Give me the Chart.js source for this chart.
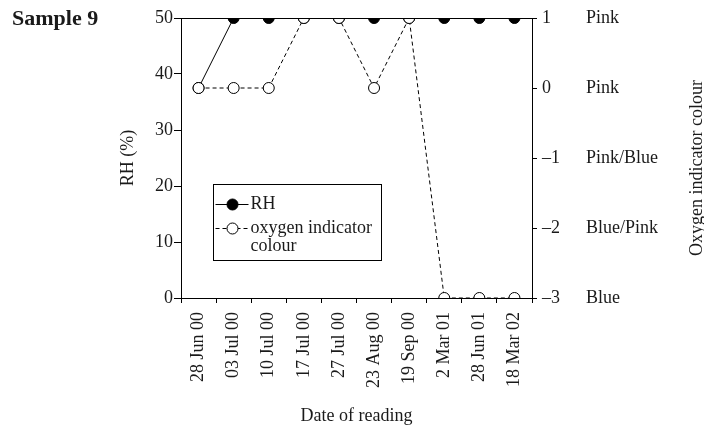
<!DOCTYPE html>
<html>
<head>
<meta charset="utf-8">
<script src="https://cdn.jsdelivr.net/npm/chart.js@4/dist/chart.umd.min.js"></script>
<style>
  html, body { margin: 0; padding: 0; background: #fff; }
  #wrap { position: relative; width: 704px; height: 430px; }
</style>
</head>
<body>
<div id="wrap"><canvas id="c" width="704" height="430"></canvas></div>
<script>
// ---- data ----
const dates = ['28 Jun 00', '03 Jul 00', '10 Jul 00', '17 Jul 00', '27 Jul 00', '23 Aug 00', '19 Sep 00', '2 Mar 01', '28 Jun 01', '18 Mar 02'];
const rhValues = [37.5, 50, 50, 50, 50, 50, 50, 50, 50, 50];
const oxygenValues = [0, 0, 0, 1, 1, 0, 1, -3, -3, -3];
const colourTickValues = [1, 0, -1, -2, -3];
const colourTickNames = ['Pink', 'Pink', 'Pink/Blue', 'Blue/Pink', 'Blue'];
const seriesNames = ['RH', 'oxygen indicator colour'];
const chartTitle = 'Sample 9';

const FONT = "'Liberation Serif', 'Times New Roman', serif";
const TXT = '#1a1a1a';

function colourName(v) {
  const i = colourTickValues.indexOf(v);
  return i >= 0 ? colourTickNames[i] : '';
}
function dashNum(v) { return v < 0 ? '\u2013' + Math.abs(v) : String(v); }

const decorPlugin = {
  id: 'decor',
  afterDraw(chart) {
    const ctx = chart.ctx;
    const ca = chart.chartArea;
    ctx.save();
    // top frame line
    ctx.strokeStyle = '#000';
    ctx.lineWidth = 1;
    ctx.beginPath();
    ctx.moveTo(ca.left, Math.round(ca.top) + 0.5);
    ctx.lineTo(ca.right, Math.round(ca.top) + 0.5);
    ctx.stroke();

    // Sample title
    ctx.fillStyle = TXT;
    ctx.font = "bold 22px " + FONT;
    ctx.textAlign = 'left';
    ctx.textBaseline = 'alphabetic';
    ctx.fillText(chartTitle, 12, 25);

    // right axis title (reads bottom to top)
    const yc = chart.scales.yColor;
    ctx.save();
    ctx.translate(yc.right - 7, (ca.top + ca.bottom) / 2 + 10);
    ctx.rotate(-Math.PI / 2);
    ctx.font = "18px " + FONT;
    ctx.textAlign = 'center';
    ctx.textBaseline = 'middle';
    ctx.fillText('Oxygen indicator colour', 0, 0);
    ctx.restore();

    // legend box
    const bx = Math.round(ca.left + 32) + 0.5;
    const by = Math.round(ca.top + 166) + 0.5;
    const bw = 168, bh = 76;
    ctx.fillStyle = '#fff';
    ctx.fillRect(bx, by, bw, bh);
    ctx.strokeStyle = '#000';
    ctx.lineWidth = 1;
    ctx.strokeRect(bx, by, bw, bh);

    const ds = chart.data.datasets;
    const entries = [
      { d: ds.find(d => d.label === seriesNames[0]), y: by + 20, lines: [seriesNames[0]] },
      { d: ds.find(d => d.label === seriesNames[1]), y: by + 44, lines: ['oxygen indicator', 'colour'] }
    ];
    ctx.font = "18px " + FONT;
    ctx.textBaseline = 'middle';
    ctx.textAlign = 'left';
    entries.forEach(e => {
      ctx.save();
      ctx.strokeStyle = e.d.borderColor;
      ctx.lineWidth = 1;
      ctx.setLineDash(e.d.borderDash || []);
      ctx.beginPath();
      ctx.moveTo(bx + 2, e.y);
      ctx.lineTo(bx + 35, e.y);
      ctx.stroke();
      ctx.setLineDash([]);
      ctx.beginPath();
      ctx.arc(bx + 19, e.y, e.d.pointRadius, 0, Math.PI * 2);
      ctx.fillStyle = e.d.pointBackgroundColor;
      ctx.fill();
      ctx.strokeStyle = e.d.pointBorderColor;
      ctx.stroke();
      ctx.restore();
      ctx.fillStyle = TXT;
      e.lines.forEach((t, i) => ctx.fillText(t, bx + 37, e.y + i * 18));
    });
    ctx.restore();
  }
};

new Chart(document.getElementById('c'), {
  type: 'line',
  data: {
    labels: dates,
    datasets: [
      {
        label: seriesNames[1],
        data: oxygenValues,
        yAxisID: 'y2',
        borderColor: '#000',
        borderWidth: 1,
        borderDash: [4, 3],
        pointRadius: 5.5,
        pointBackgroundColor: '#fff',
        pointBorderColor: '#000',
        pointBorderWidth: 1,
        tension: 0,
        order: 0
      },
      {
        label: seriesNames[0],
        data: rhValues,
        yAxisID: 'y',
        borderColor: '#000',
        borderWidth: 1,
        pointRadius: 5.5,
        pointBackgroundColor: '#000',
        pointBorderColor: '#000',
        pointBorderWidth: 1,
        tension: 0,
        order: 1
      }
    ]
  },
  options: {
    responsive: false,
    animation: false,
    devicePixelRatio: 1,
    layout: { padding: { left: 117, right: 0, top: 18, bottom: 3 } },
    plugins: {
      legend: { display: false },
      tooltip: { enabled: false },
      title: { display: false }
    },
    scales: {
      x: {
        type: 'category',
        offset: true,
        grid: { display: true, drawOnChartArea: false, offset: true, tickLength: 5, color: '#000', tickColor: '#000' },
        border: { display: true, color: '#000', width: 1 },
        ticks: {
          autoSkip: false, minRotation: 90, maxRotation: 90, padding: 9,
          color: TXT, font: { family: FONT, size: 18 }
        },
        title: { display: true, text: 'Date of reading', color: TXT, font: { family: FONT, size: 18 }, padding: { top: 4, bottom: 0 } },
        afterFit(s) { s.height = 129; }
      },
      y: {
        position: 'left',
        min: 0, max: 50,
        grid: { display: true, drawOnChartArea: false, tickLength: 7, color: '#000', tickColor: '#000' },
        border: { display: true, color: '#000', width: 1 },
        ticks: { stepSize: 10, padding: 1, color: TXT, font: { family: FONT, size: 18 } },
        title: { display: true, text: 'RH (%)', color: TXT, font: { family: FONT, size: 18 }, padding: { top: 0, bottom: 0 } },
        afterFit(s) { s.width = 64; }
      },
      y2: {
        position: 'right',
        weight: 0,
        min: -3, max: 1,
        grid: { display: true, drawOnChartArea: false, tickLength: 5, color: '#000', tickColor: '#000' },
        border: { display: true, color: '#000', width: 1 },
        ticks: {
          stepSize: 1, padding: 5, crossAlign: 'near', color: TXT, font: { family: FONT, size: 18 },
          callback: v => dashNum(v)
        },
        afterFit(s) { s.width = 54; }
      },
      yColor: {
        position: 'right',
        weight: 1,
        min: -3, max: 1,
        grid: { display: false, drawTicks: false, tickLength: 0 },
        border: { display: false },
        ticks: {
          stepSize: 1, padding: 0, crossAlign: 'near', color: TXT, font: { family: FONT, size: 18 },
          callback: v => colourName(v)
        },
        afterFit(s) { s.width = 118; }
      }
    }
  },
  plugins: [decorPlugin]
});
</script>
</body>
</html>
